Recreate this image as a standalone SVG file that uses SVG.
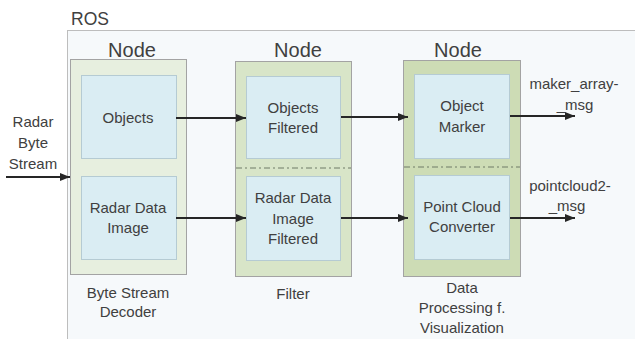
<svg xmlns="http://www.w3.org/2000/svg" width="635" height="339" viewBox="0 0 635 339">
<style>
text{font-family:"Liberation Sans",Arial,sans-serif;fill:#404040;text-anchor:middle}
.t{font-size:15px}
.h{font-size:20px}
.outer{stroke:#a3a3a3;stroke-width:1}
.inner{fill:#daedf3;stroke:#b5cbd3;stroke-width:1}
.dd{stroke:#6f7a66;stroke-width:1;stroke-dasharray:6 3 2 3;fill:none}
.c{stroke:#262626;stroke-width:2;fill:none;marker-end:url(#ah)}
</style>
<defs>
<marker id="ah" viewBox="0 0 10 10" refX="10" refY="5" markerWidth="5" markerHeight="5" orient="auto" markerUnits="strokeWidth">
<path d="M0,1 L10,5 L0,9 Z" fill="#262626"/>
</marker>
</defs>
<rect width="635" height="339" fill="#ffffff"/>
<g id="ros">
<rect x="67.5" y="30.5" width="580" height="320" fill="#f6f9fb" stroke="#bdbdbd"/>
<text x="71" y="25" style="font-size:17.5px;text-anchor:start">ROS</text>
</g>
<g id="node1">
<text class="h" x="132" y="57">Node</text>
<rect class="outer" x="70.5" y="59.5" width="116" height="215" fill="#e7efdf"/>
<rect class="inner" x="81.5" y="75.5" width="95" height="83"/>
<rect class="inner" x="81.5" y="176.5" width="95" height="83"/>
<text class="t" x="128" y="123">Objects</text>
<text class="t" x="128" y="213">Radar Data</text>
<text class="t" x="128" y="233">Image</text>
<text class="t" x="128" y="298">Byte Stream</text>
<text class="t" x="128" y="317">Decoder</text>
</g>
<g id="node2">
<text class="h" x="298" y="57">Node</text>
<rect class="outer" x="235.5" y="61.5" width="116" height="215" fill="#d8e5c8"/>
<line class="dd" x1="236" y1="168" x2="351" y2="168"/>
<rect class="inner" x="246.5" y="76.5" width="94" height="82"/>
<rect class="inner" x="246.5" y="176.5" width="94" height="84"/>
<text class="t" x="293" y="113">Objects</text>
<text class="t" x="293" y="133">Filtered</text>
<text class="t" x="293" y="203">Radar Data</text>
<text class="t" x="293" y="224">Image</text>
<text class="t" x="293" y="244">Filtered</text>
<text class="t" x="293" y="299">Filter</text>
</g>
<g id="node3">
<text class="h" x="458" y="57">Node</text>
<rect class="outer" x="403.5" y="60.5" width="117" height="216" fill="#cddcb5"/>
<line class="dd" x1="404" y1="167" x2="520" y2="167"/>
<rect class="inner" x="414.5" y="74.5" width="95" height="84"/>
<rect class="inner" x="414.5" y="175.5" width="95" height="84"/>
<text class="t" x="462" y="111">Object</text>
<text class="t" x="462" y="132">Marker</text>
<text class="t" x="462" y="212">Point Cloud</text>
<text class="t" x="462" y="232">Converter</text>
<text class="t" x="462" y="293">Data</text>
<text class="t" x="462" y="313">Processing f.</text>
<text class="t" x="462" y="333">Visualization</text>
</g>
<g id="input">
<text class="t" x="33" y="127">Radar</text>
<text class="t" x="33" y="148">Byte</text>
<text class="t" x="33" y="169">Stream</text>
</g>
<g id="outputs">
<text class="t" x="574" y="89">maker_array-</text>
<text class="t" x="575" y="110">_msg</text>
<text class="t" x="570" y="191">pointcloud2-</text>
<text class="t" x="567" y="211">_msg</text>
</g>
<g id="connectors">
<line class="c" x1="6" y1="177" x2="70" y2="177"/>
<line class="c" x1="176" y1="118" x2="246" y2="118"/>
<line class="c" x1="176" y1="218" x2="246" y2="218"/>
<line class="c" x1="341" y1="117" x2="408" y2="117"/>
<line class="c" x1="341" y1="218" x2="408" y2="218"/>
<line class="c" x1="510" y1="116" x2="575" y2="116"/>
<line class="c" x1="510" y1="218" x2="575" y2="218"/>
</g>
</svg>
